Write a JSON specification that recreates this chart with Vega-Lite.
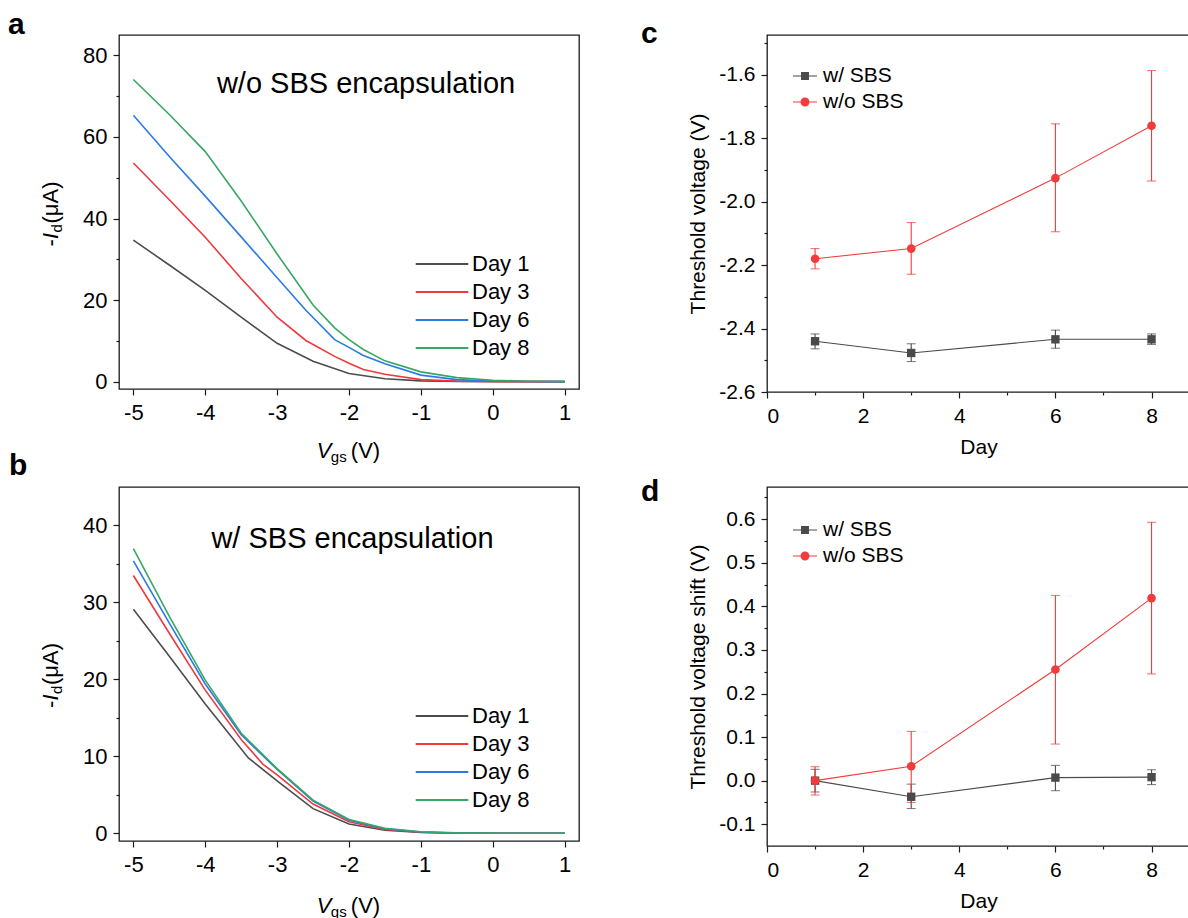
{
  "$schema": "https://vega.github.io/schema/vega-lite/v6.json",
  "padding": {"left": 7, "top": 9, "right": 0, "bottom": 0},
  "columns": 2,
  "bounds": "flush",
  "spacing": {"row": 95, "column": 188},
  "resolve": {"scale": {"color": "independent", "shape": "independent", "x": "independent", "y": "independent"}, "legend": {"color": "independent", "shape": "independent"}},
  "config": {
    "font": "Liberation Sans",
    "view": {"stroke": "#1a1a1a", "strokeWidth": 1.3},
    "axis": {"domain": false, "grid": false, "ticks": true, "tickColor": "#1a1a1a", "tickWidth": 1.2, "labelColor": "black", "labelFont": "Liberation Sans", "titleFont": "Liberation Sans", "titleFontWeight": "normal", "titleColor": "black"},
    "legend": {"labelFont": "Liberation Sans", "labelColor": "black", "symbolOpacity": 1},
    "text": {"font": "Liberation Sans", "color": "black"},
    "locale": {"number": {"decimal": ".", "thousands": ",", "grouping": [3], "currency": ["$", ""], "minus": "-"}}
  },
  "concat": [
    {
      "width": 460, "height": 354,
      "title": {"text": "a", "anchor": "start", "frame": "group", "fontSize": 30, "fontWeight": "bold", "font": "Liberation Sans", "baseline": "alphabetic", "offset": -29, "dx": -111, "color": "black"},
      "resolve": {"axis": {"x": "independent", "y": "independent"}},
      "layer": [
        {
          "data": {"values": [
            {"day": "Day 1", "vgs": -5, "id": 34.7}, {"day": "Day 1", "vgs": -4.5, "id": 28.6}, {"day": "Day 1", "vgs": -4, "id": 22.4}, {"day": "Day 1", "vgs": -3.5, "id": 15.8}, {"day": "Day 1", "vgs": -3, "id": 9.4}, {"day": "Day 1", "vgs": -2.5, "id": 5.0}, {"day": "Day 1", "vgs": -2, "id": 2.0}, {"day": "Day 1", "vgs": -1.5, "id": 0.7}, {"day": "Day 1", "vgs": -1, "id": 0.2}, {"day": "Day 1", "vgs": -0.5, "id": 0.06}, {"day": "Day 1", "vgs": 0, "id": 0.02}, {"day": "Day 1", "vgs": 0.5, "id": 0}, {"day": "Day 1", "vgs": 1, "id": 0},
            {"day": "Day 3", "vgs": -5, "id": 53.6}, {"day": "Day 3", "vgs": -4.5, "id": 44.6}, {"day": "Day 3", "vgs": -4, "id": 35.4}, {"day": "Day 3", "vgs": -3.5, "id": 25.3}, {"day": "Day 3", "vgs": -3, "id": 15.8}, {"day": "Day 3", "vgs": -2.6, "id": 10.1}, {"day": "Day 3", "vgs": -2.2, "id": 6.2}, {"day": "Day 3", "vgs": -2, "id": 4.5}, {"day": "Day 3", "vgs": -1.8, "id": 3.0}, {"day": "Day 3", "vgs": -1.5, "id": 1.8}, {"day": "Day 3", "vgs": -1, "id": 0.5}, {"day": "Day 3", "vgs": -0.5, "id": 0.12}, {"day": "Day 3", "vgs": 0, "id": 0.03}, {"day": "Day 3", "vgs": 0.5, "id": 0}, {"day": "Day 3", "vgs": 1, "id": 0},
            {"day": "Day 6", "vgs": -5, "id": 65.3}, {"day": "Day 6", "vgs": -4.5, "id": 55.2}, {"day": "Day 6", "vgs": -4, "id": 45.5}, {"day": "Day 6", "vgs": -3.5, "id": 35.5}, {"day": "Day 6", "vgs": -3, "id": 25.5}, {"day": "Day 6", "vgs": -2.6, "id": 17.5}, {"day": "Day 6", "vgs": -2.2, "id": 10.3}, {"day": "Day 6", "vgs": -2, "id": 8.4}, {"day": "Day 6", "vgs": -1.8, "id": 6.4}, {"day": "Day 6", "vgs": -1.5, "id": 4.4}, {"day": "Day 6", "vgs": -1, "id": 1.6}, {"day": "Day 6", "vgs": -0.5, "id": 0.5}, {"day": "Day 6", "vgs": 0, "id": 0.15}, {"day": "Day 6", "vgs": 0.5, "id": 0.03}, {"day": "Day 6", "vgs": 1, "id": 0},
            {"day": "Day 8", "vgs": -5, "id": 74.1}, {"day": "Day 8", "vgs": -4.5, "id": 65.5}, {"day": "Day 8", "vgs": -4, "id": 56.4}, {"day": "Day 8", "vgs": -3.5, "id": 44.3}, {"day": "Day 8", "vgs": -3, "id": 31.3}, {"day": "Day 8", "vgs": -2.5, "id": 18.8}, {"day": "Day 8", "vgs": -2.2, "id": 13.2}, {"day": "Day 8", "vgs": -2, "id": 10.3}, {"day": "Day 8", "vgs": -1.8, "id": 7.9}, {"day": "Day 8", "vgs": -1.5, "id": 5.1}, {"day": "Day 8", "vgs": -1, "id": 2.4}, {"day": "Day 8", "vgs": -0.5, "id": 1.0}, {"day": "Day 8", "vgs": 0, "id": 0.35}, {"day": "Day 8", "vgs": 0.5, "id": 0.1}, {"day": "Day 8", "vgs": 1, "id": 0.02}
          ]},
          "mark": {"type": "line", "strokeWidth": 1.6},
          "encoding": {
            "x": {"field": "vgs", "type": "quantitative", "scale": {"domain": [-5.2, 1.2], "nice": false, "zero": false},
              "axis": {"title": null, "values": [-5, -4.5, -4, -3.5, -3, -2.5, -2, -1.5, -1, -0.5, 0, 0.5, 1], "format": "d", "labelExpr": "abs(datum.value % 1) < 0.001 ? datum.label : ''", "tickSize": {"condition": {"test": "abs(datum.value % 1) > 0.001", "value": 3}, "value": 6}, "labelFontSize": 22, "labelPadding": 7}},
            "y": {"field": "id", "type": "quantitative", "scale": {"domain": [-1.8, 85], "nice": false, "zero": false},
              "axis": {"title": null, "values": [0, 10, 20, 30, 40, 50, 60, 70, 80], "labelExpr": "datum.value % 20 === 0 ? datum.label : ''", "tickSize": {"condition": {"test": "datum.value % 20 !== 0", "value": 3}, "value": 6}, "labelFontSize": 22, "labelPadding": 6}},
            "color": {"field": "day", "type": "nominal", "scale": {"domain": ["Day 1", "Day 3", "Day 6", "Day 8"], "range": ["#4d4d4d", "#f0393c", "#2b7be3", "#36a764"]},
              "legend": {"orient": "none", "legendX": 310, "legendY": 216, "title": null, "symbolType": "M-2.19,0H2.19", "symbolSize": 576, "symbolStrokeWidth": 1.8, "labelFontSize": 22, "labelOffset": 17, "rowPadding": 4, "padding": 0}}
          }
        },
        {"data": {"values": [{"t": "w/o SBS encapsulation"}]}, "mark": {"type": "text", "align": "left", "baseline": "alphabetic", "fontSize": 29}, "encoding": {"text": {"field": "t"}, "x": {"datum": -3.838, "scale": {"domain": [-5.2, 1.2], "nice": false, "zero": false}, "axis": null}, "y": {"datum": 70.7, "scale": {"domain": [-1.8, 85], "nice": false, "zero": false}, "axis": null}}},
        {"data": {"values": [{}]}, "mark": {"type": "text", "text": "V", "fontStyle": "italic", "fontSize": 22, "align": "left", "baseline": "alphabetic"}, "encoding": {"x": {"datum": -2.448, "scale": {"domain": [-5.2, 1.2], "nice": false, "zero": false}, "axis": null}, "y": {"datum": -18.67, "scale": {"domain": [-1.8, 85], "nice": false, "zero": false}, "axis": null}}},
        {"data": {"values": [{}]}, "mark": {"type": "text", "text": "gs", "fontSize": 15, "dx": 14, "dy": 4, "align": "left", "baseline": "alphabetic"}, "encoding": {"x": {"datum": -2.448, "scale": {"domain": [-5.2, 1.2], "nice": false, "zero": false}, "axis": null}, "y": {"datum": -18.67, "scale": {"domain": [-1.8, 85], "nice": false, "zero": false}, "axis": null}}},
        {"data": {"values": [{}]}, "mark": {"type": "text", "text": "(V)", "fontSize": 22, "dx": 34, "align": "left", "baseline": "alphabetic"}, "encoding": {"x": {"datum": -2.448, "scale": {"domain": [-5.2, 1.2], "nice": false, "zero": false}, "axis": null}, "y": {"datum": -18.67, "scale": {"domain": [-1.8, 85], "nice": false, "zero": false}, "axis": null}}},
        {"data": {"values": [{}]}, "mark": {"type": "text", "text": "-", "fontSize": 22, "angle": 270, "align": "left", "baseline": "alphabetic"}, "encoding": {"x": {"datum": -6.048, "scale": {"domain": [-5.2, 1.2], "nice": false, "zero": false}, "axis": null}, "y": {"datum": 33.15, "scale": {"domain": [-1.8, 85], "nice": false, "zero": false}, "axis": null}}},
        {"data": {"values": [{}]}, "mark": {"type": "text", "text": "I", "fontStyle": "italic", "fontSize": 22, "angle": 270, "dx": 7.5, "align": "left", "baseline": "alphabetic"}, "encoding": {"x": {"datum": -6.048, "scale": {"domain": [-5.2, 1.2], "nice": false, "zero": false}, "axis": null}, "y": {"datum": 33.15, "scale": {"domain": [-1.8, 85], "nice": false, "zero": false}, "axis": null}}},
        {"data": {"values": [{}]}, "mark": {"type": "text", "text": "d", "fontSize": 15, "angle": 270, "dx": 14, "dy": 4, "align": "left", "baseline": "alphabetic"}, "encoding": {"x": {"datum": -6.048, "scale": {"domain": [-5.2, 1.2], "nice": false, "zero": false}, "axis": null}, "y": {"datum": 33.15, "scale": {"domain": [-1.8, 85], "nice": false, "zero": false}, "axis": null}}},
        {"data": {"values": [{}]}, "mark": {"type": "text", "text": "(μA)", "fontSize": 22, "angle": 270, "dx": 23, "align": "left", "baseline": "alphabetic"}, "encoding": {"x": {"datum": -6.048, "scale": {"domain": [-5.2, 1.2], "nice": false, "zero": false}, "axis": null}, "y": {"datum": 33.15, "scale": {"domain": [-1.8, 85], "nice": false, "zero": false}, "axis": null}}}
      ]
    },
    {
      "width": 423, "height": 357,
      "title": {"text": "c", "anchor": "start", "frame": "group", "fontSize": 30, "fontWeight": "bold", "font": "Liberation Sans", "baseline": "alphabetic", "offset": -37.7, "dx": -126, "color": "black"},
      "resolve": {"axis": {"x": "independent", "y": "independent"}},
      "data": {"values": [
        {"s": "w/ SBS", "d": 1, "v": -2.440, "lo": -2.464, "hi": -2.417},
        {"s": "w/ SBS", "d": 3, "v": -2.477, "lo": -2.504, "hi": -2.448},
        {"s": "w/ SBS", "d": 6, "v": -2.434, "lo": -2.462, "hi": -2.405},
        {"s": "w/ SBS", "d": 8, "v": -2.434, "lo": -2.450, "hi": -2.417},
        {"s": "w/o SBS", "d": 1, "v": -2.180, "lo": -2.212, "hi": -2.148},
        {"s": "w/o SBS", "d": 3, "v": -2.148, "lo": -2.229, "hi": -2.066},
        {"s": "w/o SBS", "d": 6, "v": -1.926, "lo": -2.095, "hi": -1.755},
        {"s": "w/o SBS", "d": 8, "v": -1.761, "lo": -1.935, "hi": -1.587}
      ]},
      "layer": [
        {
          "mark": {"type": "line", "strokeWidth": 1.1},
          "encoding": {
            "x": {"field": "d", "type": "quantitative", "scale": {"domain": [0, 8.8], "nice": false, "zero": false},
              "axis": {"title": "Day", "titleFontSize": 21, "titlePadding": 10, "values": [0, 1, 2, 3, 4, 5, 6, 7, 8], "labelExpr": "datum.value % 2 === 0 ? datum.label : ''", "tickSize": {"condition": {"test": "datum.value % 2 !== 0", "value": 3}, "value": 6}, "labelFontSize": 21, "labelPadding": 7}},
            "y": {"field": "v", "type": "quantitative", "scale": {"domain": [-2.6, -1.475], "nice": false, "zero": false},
              "axis": {"title": "Threshold voltage (V)", "titleFontSize": 21, "titlePadding": 10, "values": [-2.6, -2.5, -2.4, -2.3, -2.2, -2.1, -2.0, -1.9, -1.8, -1.7, -1.6, -1.5], "format": ".1f", "labelExpr": "abs(round(datum.value*5)-datum.value*5) < 0.01 ? datum.label : ''", "tickSize": {"condition": {"test": "abs(round(datum.value*5)-datum.value*5) >= 0.01", "value": 3}, "value": 6}, "labelFontSize": 21, "labelPadding": 6}},
            "color": {"field": "s", "type": "nominal", "scale": {"domain": ["w/ SBS", "w/o SBS"], "range": ["#4a4a4a", "#f03c3c"]},
              "legend": {"orient": "none", "legendX": 26, "legendY": 29, "title": null, "symbolSize": 576, "symbolStrokeWidth": 0, "symbolOpacity": 1, "labelFontSize": 21, "labelOffset": 6, "rowPadding": 4, "padding": 0}}
          }
        },
        {
          "mark": {"type": "errorbar", "ticks": {"size": 9}, "thickness": 1.1},
          "encoding": {
            "x": {"field": "d", "type": "quantitative", "scale": {"domain": [0, 8.8], "nice": false, "zero": false}, "axis": null},
            "y": {"field": "lo", "type": "quantitative", "scale": {"domain": [-2.6, -1.475], "nice": false, "zero": false}, "axis": null},
            "y2": {"field": "hi"},
            "color": {"field": "s", "type": "nominal", "scale": {"domain": ["w/ SBS", "w/o SBS"], "range": ["#4a4a4a", "#f03c3c"]},
              "legend": {"orient": "none", "legendX": 26, "legendY": 29, "title": null, "symbolSize": 576, "symbolStrokeWidth": 0, "symbolOpacity": 1, "labelFontSize": 21, "labelOffset": 6, "rowPadding": 4, "padding": 0}}
          }
        },
        {
          "transform": [{"filter": "datum.s === 'w/ SBS'"}],
          "mark": {"type": "point", "filled": true, "opacity": 1, "size": 70, "shape": "square"},
          "encoding": {
            "x": {"field": "d", "type": "quantitative", "scale": {"domain": [0, 8.8], "nice": false, "zero": false}, "axis": null},
            "y": {"field": "v", "type": "quantitative", "scale": {"domain": [-2.6, -1.475], "nice": false, "zero": false}, "axis": null},
            "color": {"field": "s", "type": "nominal", "scale": {"domain": ["w/ SBS", "w/o SBS"], "range": ["#4a4a4a", "#f03c3c"]},
              "legend": {"orient": "none", "legendX": 26, "legendY": 29, "title": null, "symbolSize": 576, "symbolStrokeWidth": 0, "symbolOpacity": 1, "labelFontSize": 21, "labelOffset": 6, "rowPadding": 4, "padding": 0}}
          }
        },
        {
          "transform": [{"filter": "datum.s === 'w/o SBS'"}],
          "mark": {"type": "point", "filled": true, "opacity": 1, "size": 75, "shape": "circle"},
          "encoding": {
            "x": {"field": "d", "type": "quantitative", "scale": {"domain": [0, 8.8], "nice": false, "zero": false}, "axis": null},
            "y": {"field": "v", "type": "quantitative", "scale": {"domain": [-2.6, -1.475], "nice": false, "zero": false}, "axis": null},
            "color": {"field": "s", "type": "nominal", "scale": {"domain": ["w/ SBS", "w/o SBS"], "range": ["#4a4a4a", "#f03c3c"]},
              "legend": {"orient": "none", "legendX": 26, "legendY": 29, "title": null, "symbolSize": 576, "symbolStrokeWidth": 0, "symbolOpacity": 1, "labelFontSize": 21, "labelOffset": 6, "rowPadding": 4, "padding": 0}}
          }
        },
        {
          "mark": {"type": "point", "filled": true, "size": 0, "opacity": 1},
          "encoding": {
            "x": {"field": "d", "type": "quantitative", "scale": {"domain": [0, 8.8], "nice": false, "zero": false}, "axis": null},
            "y": {"field": "v", "type": "quantitative", "scale": {"domain": [-2.6, -1.475], "nice": false, "zero": false}, "axis": null},
            "shape": {"field": "s", "type": "nominal", "scale": {"domain": ["w/ SBS", "w/o SBS"], "range": ["M-1,-0.05H-0.33V0.05H-1ZM0.33,-0.05H1V0.05H0.33ZM-0.33,-0.33H0.33V0.33H-0.33Z", "M-1,-0.05H-0.375V0.05H-1ZM0.375,-0.05H1V0.05H0.375ZM-0.375,0A0.375,0.375,0,1,0,0.375,0A0.375,0.375,0,1,0,-0.375,0Z"]},
              "legend": {"orient": "none", "legendX": 26, "legendY": 29, "title": null, "symbolSize": 576, "symbolStrokeWidth": 0, "symbolOpacity": 1, "labelFontSize": 21, "labelOffset": 6, "rowPadding": 4, "padding": 0}},
            "color": {"field": "s", "type": "nominal", "scale": {"domain": ["w/ SBS", "w/o SBS"], "range": ["#4a4a4a", "#f03c3c"]},
              "legend": {"orient": "none", "legendX": 26, "legendY": 29, "title": null, "symbolSize": 576, "symbolStrokeWidth": 0, "symbolOpacity": 1, "labelFontSize": 21, "labelOffset": 6, "rowPadding": 4, "padding": 0}}
          }
        }
      ]
    },
    {
      "width": 460, "height": 354,
      "title": {"text": "b", "anchor": "start", "frame": "group", "fontSize": 30, "fontWeight": "bold", "font": "Liberation Sans", "baseline": "alphabetic", "offset": -18, "dx": -110, "color": "black"},
      "resolve": {"axis": {"x": "independent", "y": "independent"}},
      "layer": [
        {
          "data": {"values": [
            {"day": "Day 1", "vgs": -5, "id": 29.1}, {"day": "Day 1", "vgs": -4.5, "id": 23.0}, {"day": "Day 1", "vgs": -4, "id": 16.8}, {"day": "Day 1", "vgs": -3.4, "id": 9.8}, {"day": "Day 1", "vgs": -3, "id": 6.8}, {"day": "Day 1", "vgs": -2.5, "id": 3.2}, {"day": "Day 1", "vgs": -2, "id": 1.2}, {"day": "Day 1", "vgs": -1.5, "id": 0.4}, {"day": "Day 1", "vgs": -1, "id": 0.1}, {"day": "Day 1", "vgs": -0.5, "id": 0.02}, {"day": "Day 1", "vgs": 0, "id": 0}, {"day": "Day 1", "vgs": 1, "id": 0},
            {"day": "Day 3", "vgs": -5, "id": 33.5}, {"day": "Day 3", "vgs": -4.5, "id": 26.0}, {"day": "Day 3", "vgs": -4, "id": 18.6}, {"day": "Day 3", "vgs": -3.5, "id": 12.2}, {"day": "Day 3", "vgs": -3.2, "id": 9.0}, {"day": "Day 3", "vgs": -3, "id": 7.6}, {"day": "Day 3", "vgs": -2.5, "id": 3.8}, {"day": "Day 3", "vgs": -2, "id": 1.5}, {"day": "Day 3", "vgs": -1.5, "id": 0.5}, {"day": "Day 3", "vgs": -1, "id": 0.13}, {"day": "Day 3", "vgs": -0.5, "id": 0.03}, {"day": "Day 3", "vgs": 0, "id": 0}, {"day": "Day 3", "vgs": 1, "id": 0},
            {"day": "Day 6", "vgs": -5, "id": 35.4}, {"day": "Day 6", "vgs": -4.5, "id": 27.3}, {"day": "Day 6", "vgs": -4, "id": 19.4}, {"day": "Day 6", "vgs": -3.5, "id": 12.8}, {"day": "Day 6", "vgs": -3, "id": 8.3}, {"day": "Day 6", "vgs": -2.5, "id": 4.2}, {"day": "Day 6", "vgs": -2, "id": 1.7}, {"day": "Day 6", "vgs": -1.5, "id": 0.6}, {"day": "Day 6", "vgs": -1, "id": 0.17}, {"day": "Day 6", "vgs": -0.5, "id": 0.04}, {"day": "Day 6", "vgs": 0, "id": 0.01}, {"day": "Day 6", "vgs": 1, "id": 0},
            {"day": "Day 8", "vgs": -5, "id": 37.0}, {"day": "Day 8", "vgs": -4.5, "id": 28.2}, {"day": "Day 8", "vgs": -4, "id": 19.9}, {"day": "Day 8", "vgs": -3.5, "id": 13.0}, {"day": "Day 8", "vgs": -3, "id": 8.4}, {"day": "Day 8", "vgs": -2.5, "id": 4.3}, {"day": "Day 8", "vgs": -2, "id": 1.8}, {"day": "Day 8", "vgs": -1.5, "id": 0.65}, {"day": "Day 8", "vgs": -1, "id": 0.2}, {"day": "Day 8", "vgs": -0.5, "id": 0.05}, {"day": "Day 8", "vgs": 0, "id": 0.01}, {"day": "Day 8", "vgs": 1, "id": 0}
          ]},
          "mark": {"type": "line", "strokeWidth": 1.6},
          "encoding": {
            "x": {"field": "vgs", "type": "quantitative", "scale": {"domain": [-5.2, 1.2], "nice": false, "zero": false},
              "axis": {"title": null, "values": [-5, -4.5, -4, -3.5, -3, -2.5, -2, -1.5, -1, -0.5, 0, 0.5, 1], "format": "d", "labelExpr": "abs(datum.value % 1) < 0.001 ? datum.label : ''", "tickSize": {"condition": {"test": "abs(datum.value % 1) > 0.001", "value": 3}, "value": 6}, "labelFontSize": 22, "labelPadding": 7}},
            "y": {"field": "id", "type": "quantitative", "scale": {"domain": [-1, 45], "nice": false, "zero": false},
              "axis": {"title": null, "values": [0, 5, 10, 15, 20, 25, 30, 35, 40], "labelExpr": "datum.value % 10 === 0 ? datum.label : ''", "tickSize": {"condition": {"test": "datum.value % 10 !== 0", "value": 3}, "value": 6}, "labelFontSize": 22, "labelPadding": 6}},
            "color": {"field": "day", "type": "nominal", "scale": {"domain": ["Day 1", "Day 3", "Day 6", "Day 8"], "range": ["#4d4d4d", "#f0393c", "#2b7be3", "#36a764"]},
              "legend": {"orient": "none", "legendX": 310, "legendY": 216, "title": null, "symbolType": "M-2.19,0H2.19", "symbolSize": 576, "symbolStrokeWidth": 1.8, "labelFontSize": 22, "labelOffset": 17, "rowPadding": 4, "padding": 0}}
          }
        },
        {"data": {"values": [{"t": "w/ SBS encapsulation"}]}, "mark": {"type": "text", "align": "left", "baseline": "alphabetic", "fontSize": 29}, "encoding": {"text": {"field": "t"}, "x": {"datum": -3.914, "scale": {"domain": [-5.2, 1.2], "nice": false, "zero": false}, "axis": null}, "y": {"datum": 37.03, "scale": {"domain": [-1, 45], "nice": false, "zero": false}, "axis": null}}},
        {"data": {"values": [{}]}, "mark": {"type": "text", "text": "V", "fontStyle": "italic", "fontSize": 22, "align": "left", "baseline": "alphabetic"}, "encoding": {"x": {"datum": -2.448, "scale": {"domain": [-5.2, 1.2], "nice": false, "zero": false}, "axis": null}, "y": {"datum": -10.39, "scale": {"domain": [-1, 45], "nice": false, "zero": false}, "axis": null}}},
        {"data": {"values": [{}]}, "mark": {"type": "text", "text": "gs", "fontSize": 15, "dx": 14, "dy": 4, "align": "left", "baseline": "alphabetic"}, "encoding": {"x": {"datum": -2.448, "scale": {"domain": [-5.2, 1.2], "nice": false, "zero": false}, "axis": null}, "y": {"datum": -10.39, "scale": {"domain": [-1, 45], "nice": false, "zero": false}, "axis": null}}},
        {"data": {"values": [{}]}, "mark": {"type": "text", "text": "(V)", "fontSize": 22, "dx": 34, "align": "left", "baseline": "alphabetic"}, "encoding": {"x": {"datum": -2.448, "scale": {"domain": [-5.2, 1.2], "nice": false, "zero": false}, "axis": null}, "y": {"datum": -10.39, "scale": {"domain": [-1, 45], "nice": false, "zero": false}, "axis": null}}},
        {"data": {"values": [{}]}, "mark": {"type": "text", "text": "-", "fontSize": 22, "angle": 270, "align": "left", "baseline": "alphabetic"}, "encoding": {"x": {"datum": -6.048, "scale": {"domain": [-5.2, 1.2], "nice": false, "zero": false}, "axis": null}, "y": {"datum": 16.28, "scale": {"domain": [-1, 45], "nice": false, "zero": false}, "axis": null}}},
        {"data": {"values": [{}]}, "mark": {"type": "text", "text": "I", "fontStyle": "italic", "fontSize": 22, "angle": 270, "dx": 7.5, "align": "left", "baseline": "alphabetic"}, "encoding": {"x": {"datum": -6.048, "scale": {"domain": [-5.2, 1.2], "nice": false, "zero": false}, "axis": null}, "y": {"datum": 16.28, "scale": {"domain": [-1, 45], "nice": false, "zero": false}, "axis": null}}},
        {"data": {"values": [{}]}, "mark": {"type": "text", "text": "d", "fontSize": 15, "angle": 270, "dx": 14, "dy": 4, "align": "left", "baseline": "alphabetic"}, "encoding": {"x": {"datum": -6.048, "scale": {"domain": [-5.2, 1.2], "nice": false, "zero": false}, "axis": null}, "y": {"datum": 16.28, "scale": {"domain": [-1, 45], "nice": false, "zero": false}, "axis": null}}},
        {"data": {"values": [{}]}, "mark": {"type": "text", "text": "(μA)", "fontSize": 22, "angle": 270, "dx": 23, "align": "left", "baseline": "alphabetic"}, "encoding": {"x": {"datum": -6.048, "scale": {"domain": [-5.2, 1.2], "nice": false, "zero": false}, "axis": null}, "y": {"datum": 16.28, "scale": {"domain": [-1, 45], "nice": false, "zero": false}, "axis": null}}}
      ]
    },
    {
      "width": 423, "height": 359,
      "title": {"text": "d", "anchor": "start", "frame": "group", "fontSize": 30, "fontWeight": "bold", "font": "Liberation Sans", "baseline": "alphabetic", "offset": -44, "dx": -126, "color": "black"},
      "resolve": {"axis": {"x": "independent", "y": "independent"}},
      "data": {"values": [
        {"s": "w/ SBS", "d": 1, "v": 0.0, "lo": -0.026, "hi": 0.026},
        {"s": "w/ SBS", "d": 3, "v": -0.037, "lo": -0.064, "hi": -0.008},
        {"s": "w/ SBS", "d": 6, "v": 0.007, "lo": -0.023, "hi": 0.035},
        {"s": "w/ SBS", "d": 8, "v": 0.008, "lo": -0.009, "hi": 0.025},
        {"s": "w/o SBS", "d": 1, "v": 0.0, "lo": -0.033, "hi": 0.032},
        {"s": "w/o SBS", "d": 3, "v": 0.033, "lo": -0.050, "hi": 0.113},
        {"s": "w/o SBS", "d": 6, "v": 0.255, "lo": 0.084, "hi": 0.425},
        {"s": "w/o SBS", "d": 8, "v": 0.419, "lo": 0.245, "hi": 0.593}
      ]},
      "layer": [
        {
          "mark": {"type": "line", "strokeWidth": 1.1},
          "encoding": {
            "x": {"field": "d", "type": "quantitative", "scale": {"domain": [0, 8.8], "nice": false, "zero": false},
              "axis": {"title": "Day", "titleFontSize": 21, "titlePadding": 10, "values": [0, 1, 2, 3, 4, 5, 6, 7, 8], "labelExpr": "datum.value % 2 === 0 ? datum.label : ''", "tickSize": {"condition": {"test": "datum.value % 2 !== 0", "value": 3}, "value": 6}, "labelFontSize": 21, "labelPadding": 7}},
            "y": {"field": "v", "type": "quantitative", "scale": {"domain": [-0.15, 0.674], "nice": false, "zero": false},
              "axis": {"title": "Threshold voltage shift (V)", "titleFontSize": 21, "titlePadding": 10, "values": [-0.1, -0.05, 0, 0.05, 0.1, 0.15, 0.2, 0.25, 0.3, 0.35, 0.4, 0.45, 0.5, 0.55, 0.6, 0.65], "format": ".1f", "labelExpr": "abs(round(datum.value*10)-datum.value*10) < 0.01 ? datum.label : ''", "tickSize": {"condition": {"test": "abs(round(datum.value*10)-datum.value*10) >= 0.01", "value": 3}, "value": 6}, "labelFontSize": 21, "labelPadding": 6}},
            "color": {"field": "s", "type": "nominal", "scale": {"domain": ["w/ SBS", "w/o SBS"], "range": ["#4a4a4a", "#f03c3c"]},
              "legend": {"orient": "none", "legendX": 26, "legendY": 31, "title": null, "symbolSize": 576, "symbolStrokeWidth": 0, "symbolOpacity": 1, "labelFontSize": 21, "labelOffset": 6, "rowPadding": 4, "padding": 0}}
          }
        },
        {
          "mark": {"type": "errorbar", "ticks": {"size": 9}, "thickness": 1.1},
          "encoding": {
            "x": {"field": "d", "type": "quantitative", "scale": {"domain": [0, 8.8], "nice": false, "zero": false}, "axis": null},
            "y": {"field": "lo", "type": "quantitative", "scale": {"domain": [-0.15, 0.674], "nice": false, "zero": false}, "axis": null},
            "y2": {"field": "hi"},
            "color": {"field": "s", "type": "nominal", "scale": {"domain": ["w/ SBS", "w/o SBS"], "range": ["#4a4a4a", "#f03c3c"]},
              "legend": {"orient": "none", "legendX": 26, "legendY": 31, "title": null, "symbolSize": 576, "symbolStrokeWidth": 0, "symbolOpacity": 1, "labelFontSize": 21, "labelOffset": 6, "rowPadding": 4, "padding": 0}}
          }
        },
        {
          "transform": [{"filter": "datum.s === 'w/ SBS'"}],
          "mark": {"type": "point", "filled": true, "opacity": 1, "size": 70, "shape": "square"},
          "encoding": {
            "x": {"field": "d", "type": "quantitative", "scale": {"domain": [0, 8.8], "nice": false, "zero": false}, "axis": null},
            "y": {"field": "v", "type": "quantitative", "scale": {"domain": [-0.15, 0.674], "nice": false, "zero": false}, "axis": null},
            "color": {"field": "s", "type": "nominal", "scale": {"domain": ["w/ SBS", "w/o SBS"], "range": ["#4a4a4a", "#f03c3c"]},
              "legend": {"orient": "none", "legendX": 26, "legendY": 31, "title": null, "symbolSize": 576, "symbolStrokeWidth": 0, "symbolOpacity": 1, "labelFontSize": 21, "labelOffset": 6, "rowPadding": 4, "padding": 0}}
          }
        },
        {
          "transform": [{"filter": "datum.s === 'w/o SBS'"}],
          "mark": {"type": "point", "filled": true, "opacity": 1, "size": 75, "shape": "circle"},
          "encoding": {
            "x": {"field": "d", "type": "quantitative", "scale": {"domain": [0, 8.8], "nice": false, "zero": false}, "axis": null},
            "y": {"field": "v", "type": "quantitative", "scale": {"domain": [-0.15, 0.674], "nice": false, "zero": false}, "axis": null},
            "color": {"field": "s", "type": "nominal", "scale": {"domain": ["w/ SBS", "w/o SBS"], "range": ["#4a4a4a", "#f03c3c"]},
              "legend": {"orient": "none", "legendX": 26, "legendY": 31, "title": null, "symbolSize": 576, "symbolStrokeWidth": 0, "symbolOpacity": 1, "labelFontSize": 21, "labelOffset": 6, "rowPadding": 4, "padding": 0}}
          }
        },
        {
          "mark": {"type": "point", "filled": true, "size": 0, "opacity": 1},
          "encoding": {
            "x": {"field": "d", "type": "quantitative", "scale": {"domain": [0, 8.8], "nice": false, "zero": false}, "axis": null},
            "y": {"field": "v", "type": "quantitative", "scale": {"domain": [-0.15, 0.674], "nice": false, "zero": false}, "axis": null},
            "shape": {"field": "s", "type": "nominal", "scale": {"domain": ["w/ SBS", "w/o SBS"], "range": ["M-1,-0.05H-0.33V0.05H-1ZM0.33,-0.05H1V0.05H0.33ZM-0.33,-0.33H0.33V0.33H-0.33Z", "M-1,-0.05H-0.375V0.05H-1ZM0.375,-0.05H1V0.05H0.375ZM-0.375,0A0.375,0.375,0,1,0,0.375,0A0.375,0.375,0,1,0,-0.375,0Z"]},
              "legend": {"orient": "none", "legendX": 26, "legendY": 31, "title": null, "symbolSize": 576, "symbolStrokeWidth": 0, "symbolOpacity": 1, "labelFontSize": 21, "labelOffset": 6, "rowPadding": 4, "padding": 0}},
            "color": {"field": "s", "type": "nominal", "scale": {"domain": ["w/ SBS", "w/o SBS"], "range": ["#4a4a4a", "#f03c3c"]},
              "legend": {"orient": "none", "legendX": 26, "legendY": 31, "title": null, "symbolSize": 576, "symbolStrokeWidth": 0, "symbolOpacity": 1, "labelFontSize": 21, "labelOffset": 6, "rowPadding": 4, "padding": 0}}
          }
        }
      ]
    }
  ]
}
